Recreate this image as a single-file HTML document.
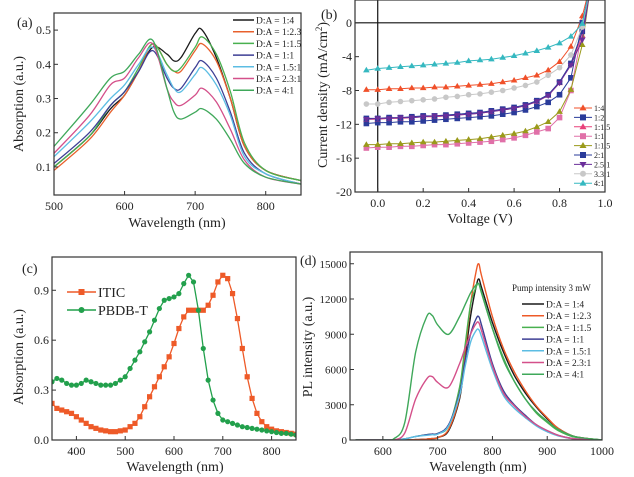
<!DOCTYPE html>
<html><head><meta charset="utf-8"><style>
body{margin:0;background:#fff}
svg{display:block}
svg text{font-family:"Liberation Serif","Times New Roman","DejaVu Serif",serif}
</style></head><body>
<svg id="fig" width="634" height="477" viewBox="0 0 634 477" xmlns="http://www.w3.org/2000/svg"></svg>
<script>
// ---- Panel (a) data ----
const aWl=[500,550,580,600,620,640,660,670,680,700,710,730,750,770,800,850];
const aLabels=["D:A = 1:4","D:A = 1:2.3","D:A = 1:1.5","D:A = 1:1","D:A = 1.5:1","D:A = 2.3:1","D:A = 4:1"];
const aS1=[.10,.19,.27,.31,.38,.45,.43,.41,.42,.49,.50,.42,.30,.16,.09,.06];
const aS2=[.09,.18,.26,.31,.38,.46,.40,.38,.38,.44,.46,.41,.30,.16,.09,.06];
const aS3=[.10,.19,.28,.32,.39,.46,.40,.38,.39,.45,.48,.43,.32,.17,.09,.06];
const aS4=[.11,.20,.28,.32,.38,.44,.36,.33,.33,.39,.41,.36,.26,.14,.08,.05];
const aS5=[.13,.23,.30,.34,.40,.45,.37,.33,.32,.37,.39,.34,.25,.13,.08,.05];
const aS6=[.14,.25,.34,.36,.42,.46,.33,.29,.28,.31,.33,.29,.21,.12,.07,.05];
const aS7=[.16,.28,.36,.38,.43,.47,.33,.26,.24,.26,.27,.24,.18,.11,.07,.05];
const aXT=[500,600,700,800];
const aYT=[0.1,0.2,0.3,0.4,0.5];
// ---- Panel (b) data ----
const bV=[-0.05,0,0.05,0.1,0.15,0.2,0.25,0.3,0.35,0.4,0.45,0.5,0.55,0.6,0.65,0.7,0.75,0.8,0.85,0.9,0.94];
const bLabels=["1:4","1:2","1:1.5","1:1","1:1.5","2:1","2.5:1","3.3:1","4:1"];
const bS1=[-7.9,-7.9,-7.8,-7.8,-7.7,-7.7,-7.6,-7.6,-7.5,-7.4,-7.3,-7.2,-7.0,-6.8,-6.5,-6.2,-5.6,-4.6,-2.8,0.8,5];
const bS2=[-11.9,-11.8,-11.8,-11.7,-11.7,-11.6,-11.5,-11.4,-11.3,-11.2,-11.1,-11.0,-10.8,-10.6,-10.3,-9.9,-9.4,-8.5,-6.5,0,5];
const bS3=[-11.4,-11.4,-11.3,-11.3,-11.2,-11.1,-11.1,-11.0,-10.9,-10.8,-10.7,-10.5,-10.3,-10.1,-9.8,-9.3,-8.6,-7.1,-4.9,-1.5,5];
const bS4=[-14.8,-14.7,-14.7,-14.6,-14.6,-14.5,-14.4,-14.4,-14.3,-14.2,-14.1,-14.0,-13.8,-13.6,-13.3,-12.9,-12.5,-11.2,-8.0,-1.0,5];
const bS5=[-14.4,-14.4,-14.3,-14.3,-14.2,-14.1,-14.1,-14.0,-13.9,-13.8,-13.7,-13.5,-13.3,-13.1,-12.8,-12.3,-11.7,-10.5,-7.9,-2.6,5];
const bS6=[-11.3,-11.3,-11.2,-11.2,-11.1,-11.0,-11.0,-10.9,-10.8,-10.7,-10.6,-10.4,-10.2,-10.0,-9.7,-9.2,-8.5,-7.0,-4.8,-1.0,5];
const bS7=[-11.4,-11.3,-11.3,-11.2,-11.2,-11.1,-11.0,-11.0,-10.9,-10.8,-10.7,-10.5,-10.3,-10.1,-9.8,-9.3,-8.6,-7.1,-5.0,-2.0,5];
const bS8=[-9.6,-9.6,-9.4,-9.3,-9.2,-9.1,-9.0,-8.8,-8.7,-8.5,-8.4,-8.2,-8.0,-7.7,-7.4,-7.0,-6.2,-5.3,-3.8,-0.5,5];
const bS9=[-5.6,-5.4,-5.3,-5.2,-5.1,-5.0,-4.9,-4.8,-4.7,-4.5,-4.4,-4.3,-4.1,-3.9,-3.6,-3.3,-2.9,-2.4,-1.6,-0.1,5];
const bXT=[0.0,0.2,0.4,0.6,0.8,1.0];
const bYT=[0,-4,-8,-12,-16,-20];
// ---- Panel (c) data ----
const cWl=[350,360,370,380,390,400,410,420,430,440,450,460,470,480,490,500,510,520,530,540,550,560,570,580,590,600,610,620,630,640,650,660,670,680,690,700,710,720,730,740,750,760,770,780,790,800,810,820,830,840,850];
const cITIC=[.22,.19,.18,.17,.16,.14,.12,.10,.08,.07,.06,.055,.05,.05,.055,.06,.08,.10,.14,.20,.26,.32,.38,.44,.50,.58,.67,.74,.78,.78,.78,.78,.81,.87,.95,.99,.97,.88,.73,.55,.38,.25,.16,.11,.08,.065,.055,.05,.045,.04,.035];
const cPBDB=[.35,.37,.36,.34,.33,.33,.34,.36,.35,.34,.33,.33,.33,.34,.36,.38,.43,.48,.53,.59,.65,.72,.79,.84,.85,.86,.88,.94,.99,.95,.78,.55,.36,.24,.16,.12,.11,.10,.09,.08,.075,.07,.065,.06,.055,.05,.045,.04,.04,.035,.03];
const cXT=[400,500,600,700,800];
const cYT=[0.0,0.3,0.6,0.9];
// ---- Panel (d) data ----
const dWl=[550,600,620,640,660,680,690,700,720,740,750,760,770,775,780,800,820,840,860,880,900,920,950,1000];
const dLabels=["D:A = 1:4","D:A = 1:2.3","D:A = 1:1.5","D:A = 1:1","D:A = 1.5:1","D:A = 2.3:1","D:A = 4:1"];
const dS1=[0,0,0,0,30,80,120,200,800,3500,7000,10500,13000,13700,13000,10000,7500,5500,4000,2800,1800,1000,300,0];
const dS2=[0,0,0,0,30,80,120,200,900,3700,7500,11500,14300,15000,14000,10500,7800,5800,4200,2900,1900,1000,300,0];
const dS3=[0,0,0,100,300,450,500,550,1200,4500,8000,11500,13000,13300,12500,9500,7000,5000,3500,2300,1500,800,250,0];
const dS4=[0,0,0,100,300,450,500,550,1300,4000,6700,9000,10300,10500,9800,6500,4200,3000,2100,1300,800,400,100,0];
const dS5=[0,0,0,100,300,400,450,500,1200,3800,6200,8300,9300,9400,8800,6000,3800,2700,1900,1200,700,350,100,0];
const dS6=[0,0,0,600,3500,5200,5400,4900,4500,6500,7800,9000,9900,10000,9300,6300,4000,2900,2000,1300,800,400,100,0];
const dS7=[0,0,100,1500,7500,10500,10600,9800,9000,10500,11500,12500,13200,13300,12600,9500,6800,5000,3500,2400,1600,900,300,0];
const dXT=[600,700,800,900,1000];
const dYT=[0,3000,6000,9000,12000,15000];

const NS="http://www.w3.org/2000/svg";
const svg=document.getElementById('fig');
function mk(tag,attrs,parent){const e=document.createElementNS(NS,tag);for(const k in attrs)e.setAttribute(k,attrs[k]);(parent||svg).appendChild(e);return e;}
function txt(s,x,y,size,anchor,parent,rot){const t=mk('text',{x:x,y:y,'font-size':size,'text-anchor':anchor||'middle',fill:'#222'},parent);if(rot)t.setAttribute('transform','rotate(-90 '+x+' '+y+')');t.textContent=s;return t;}
function scale(d0,d1,r0,r1){return v=>r0+(v-d0)/(d1-d0)*(r1-r0);}
function panel(id,L,R,T,B,xd,yd){
  const g=mk('g',{});
  
  
  const cp=mk('clipPath',{id:'clip-'+id},g);mk('rect',{x:L,y:T,width:R-L,height:B-T},cp);
  const x=scale(xd[0],xd[1],L,R),y=scale(yd[0],yd[1],B,T);
  return {g,x,y,L,R,T,B,id};
}
function frame(p,xt,yt,fmtX,fmtY,fs){
  fs=fs||12;
  const f=mk('rect',{x:p.L,y:p.T,width:p.R-p.L,height:p.B-p.T,fill:'none',stroke:'#333','stroke-width':1.2},p.g);
  
  
  xt.forEach(v=>{const X=p.x(v);mk('line',{x1:X,x2:X,y1:p.B,y2:p.B-4,stroke:'#333'},p.g);
    const t=txt(fmtX(v),X,p.B+15,12,'middle',p.g);});
  yt.forEach(v=>{const Y=p.y(v);mk('line',{x1:p.L,x2:p.L+4,y1:Y,y2:Y,stroke:'#333'},p.g);
    const t=txt(fmtY(v),p.L-3,Y+4,fs,'end',p.g);});
}
function line(p,xs,ys,color,w,name,smooth){
  const P=xs.map((v,i)=>[p.x(v),p.y(ys[i])]);
  let d='M'+P[0][0].toFixed(1)+','+P[0][1].toFixed(1);
  for(let i=0;i<P.length-1;i++){
    if(!smooth){d+='L'+P[i+1][0].toFixed(1)+','+P[i+1][1].toFixed(1);continue;}
    const p0=P[Math.max(0,i-1)],p1=P[i],p2=P[i+1],p3=P[Math.min(P.length-1,i+2)];
    const c1=[p1[0]+(p2[0]-p0[0])/6,p1[1]+(p2[1]-p0[1])/6],c2=[p2[0]-(p3[0]-p1[0])/6,p2[1]-(p3[1]-p1[1])/6];
    d+='C'+c1.map(n=>n.toFixed(1))+' '+c2.map(n=>n.toFixed(1))+' '+p2.map(n=>n.toFixed(1));
  }
  const e=mk('path',{d:d,fill:'none',stroke:color,'stroke-width':w||1.3,'clip-path':'url(#clip-'+p.id+')','stroke-linejoin':'round'},p.g);
  
  
  return e;
}
function marker(parent,shape,X,Y,c,s){
  s=s||3;
  if(shape==='sq')return mk('rect',{x:X-s,y:Y-s,width:2*s,height:2*s,fill:c},parent);
  if(shape==='ci')return mk('circle',{cx:X,cy:Y,r:s,fill:c},parent);
  if(shape==='tu')return mk('polygon',{points:`${X},${Y-s-0.6} ${X-s-0.5},${Y+s-0.6} ${X+s+0.5},${Y+s-0.6}`,fill:c},parent);
  return mk('polygon',{points:`${X},${Y+s+0.6} ${X-s-0.5},${Y-s+0.6} ${X+s+0.5},${Y-s+0.6}`,fill:c},parent);
}

// ===== Panel (a) =====
{
const p=panel('panel-a',54,301,13,195,[500,850],[0.018,0.55]);
const cols=['#1a1a1a','#e8602c','#49b04f','#3d3f95','#5cbde3','#d4508a','#3fa85a'];
[aS1,aS2,aS3,aS4,aS5,aS6,aS7].forEach((s,i)=>line(p,aWl,s,cols[i],1.3,'absorption-curve-'+(i+1),true));
frame(p,aXT,aYT,v=>v,v=>v.toFixed(1));
aLabels.forEach((l,i)=>{const Y=20+i*11.7;
  const lg=mk('g',{},p.g);
  mk('line',{x1:233,x2:254,y1:Y,y2:Y,stroke:cols[i],'stroke-width':1.5},lg);txt(l,256,Y+3.5,9.5,'start',lg);});
let t=txt('(a)',17,27,14,'start',p.g);
t=txt('Absorption (a.u.)',23,104,14,'middle',p.g,true);
t=txt('Wavelength (nm)',177,227,14,'middle',p.g);
}
// ===== Panel (b) =====
{
const p=panel('panel-b',355,605,0,192,[-0.1,1.0],[-20,2.7]);
const cols=['#f0502a','#2a3b9a','#e8407a','#e070a8','#9a9a1a','#2a3b9a','#6a2e9a','#c8c8c8','#35b8c0'];
const shp=['tu','sq','tu','sq','tu','sq','td','ci','tu'];
mk('line',{x1:p.L,x2:p.R,y1:p.y(0),y2:p.y(0),stroke:'#111','stroke-width':1.2},p.g);
mk('line',{x1:p.x(0),x2:p.x(0),y1:p.T,y2:p.B,stroke:'#111','stroke-width':1.2},p.g);
[bS1,bS2,bS3,bS4,bS5,bS6,bS7,bS8,bS9].forEach((s,i)=>{
  line(p,bV,s,cols[i],1,'jv-curve-'+bLabels[i],false);
  const mg=mk('g',{'clip-path':'url(#clip-panel-b)'},p.g);
  
  
  bV.forEach((v,j)=>marker(mg,shp[i],p.x(v),p.y(s[j]),cols[i],2.8));
});
frame(p,bXT,bYT,v=>v.toFixed(1),v=>v);
bLabels.forEach((l,i)=>{const Y=108+i*9.4;
  const lg=mk('g',{},p.g);
  mk('line',{x1:574,x2:592,y1:Y,y2:Y,stroke:cols[i],'stroke-width':1},lg);marker(lg,shp[i],583,Y,cols[i],3);txt(l,594,Y+3,8,'start',lg);});
let t=txt('(b)',321,19,14,'start',p.g);
t=txt('Current density (mA/cm',327,95,14,'middle',p.g,true);
const sup=mk('tspan',{dy:-5,'font-size':9},t);sup.textContent='2';const cl=mk('tspan',{dy:5},t);cl.textContent=')';
t=txt('Voltage (V)',480,223,14,'middle',p.g);
}
// ===== Panel (c) =====
{
const p=panel('panel-c',52,296,257,440,[350,850],[0,1.1]);
const co='#ee5a28',cg='#22a04c';
[[cITIC,co,'sq','itic'],[cPBDB,cg,'ci','pbdb-t']].forEach(([s,c,sh,n])=>{
  line(p,cWl,s,c,1.3,n+'-curve',false);
  const mg=mk('g',{'clip-path':'url(#clip-panel-c)'},p.g);
  
  
  cWl.forEach((v,j)=>marker(mg,sh,p.x(v),p.y(s[j]),c,2.6));
});
frame(p,cXT,cYT,v=>v,v=>v.toFixed(1));
[['ITIC',co,'sq',292],['PBDB-T',cg,'ci',310]].forEach(([l,c,sh,Y])=>{
  const lg=mk('g',{},p.g);
  mk('line',{x1:67,x2:96,y1:Y,y2:Y,stroke:c,'stroke-width':1.5},lg);marker(lg,sh,81.5,Y,c,3);txt(l,98,Y+5,14,'start',lg);});
let t=txt('(c)',22,273,14,'start',p.g);
t=txt('Absorption (a.u.)',23,357,14,'middle',p.g,true);
t=txt('Wavelength (nm)',175,471,14,'middle',p.g);
}
// ===== Panel (d) =====
{
const p=panel('panel-d',350,602,252,440,[540,1000],[0,16000]);
const cols=['#1a1a1a','#ee5a28','#49b04f','#3d3f95','#5cbde3','#d4508a','#3fa85a'];
[dS1,dS2,dS3,dS4,dS5,dS6,dS7].forEach((s,i)=>line(p,dWl,s,cols[i],1.4,'pl-curve-'+(i+1),true));
frame(p,dXT,dYT,v=>v,v=>v,11);
let t=txt('Pump intensity 3 mW',512,291,9,'start',p.g);
dLabels.forEach((l,i)=>{const Y=304+i*11.7;
  const lg=mk('g',{},p.g);
  mk('line',{x1:522,x2:544,y1:Y,y2:Y,stroke:cols[i],'stroke-width':1.5},lg);txt(l,546,Y+3.5,9.5,'start',lg);});
t=txt('(d)',300,265,14,'start',p.g);
t=txt('PL intensity (a.u.)',312,347,14,'middle',p.g,true);
t=txt('Wavelength (nm)',478,471,14,'middle',p.g);
}
</script>
</body></html>
